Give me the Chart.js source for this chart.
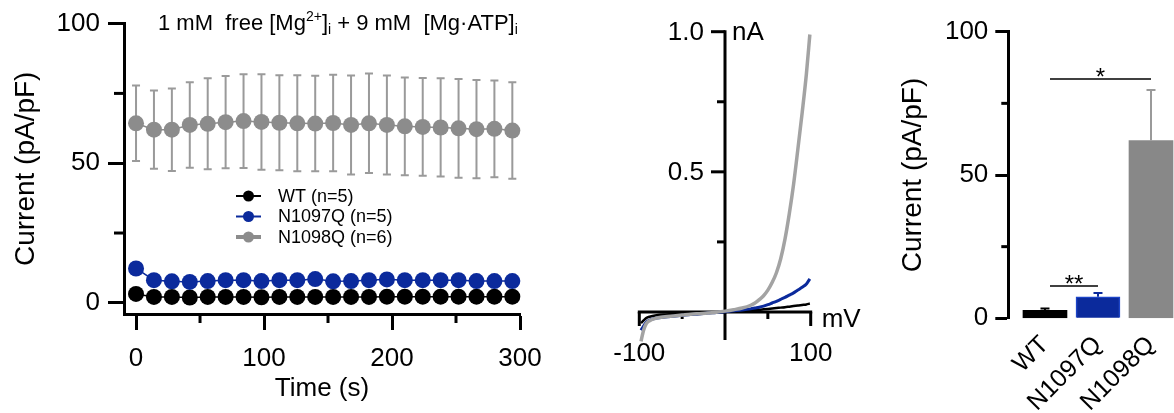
<!DOCTYPE html>
<html lang="en">
<head>
<meta charset="UTF-8">
<title>Mg-ATP currents</title>
<script src="https://cdn.jsdelivr.net/npm/chart.js@4.4.1/dist/chart.umd.min.js"></script>
<style>
    html, body {
        margin: 0;
        padding: 0;
        background: #fff;
        width: 1174px;
        height: 413px;
        overflow: hidden;
    }
    .panel {
        position: absolute;
        top: 0;
        height: 413px;
    }
</style>
</head>
<body>

<div class="panel" style="left:0;width:560px"><canvas id="timeChart" width="560" height="413"></canvas></div>
<div class="panel" style="left:600px;width:280px"><canvas id="ivChart" width="280" height="413"></canvas></div>
<div class="panel" style="left:880px;width:330px"><canvas id="barChart" width="330" height="413"></canvas></div>

<script>
    // ---- data: time course (left) ----
    const timeSec = [0, 14, 28, 42, 56, 70, 84, 98, 112, 126, 140, 154, 168, 182, 196, 210, 224, 238, 252, 266, 280, 294];
    const wtCurrent = [3.2, 2.1, 2.1, 1.9, 2.1, 2.1, 2.1, 2.0, 2.1, 2.1, 2.1, 2.1, 2.1, 2.1, 2.2, 2.2, 2.2, 2.2, 2.2, 2.2, 2.2, 2.2];
    const n1097qCurrent = [12.3, 8.1, 7.7, 7.5, 7.8, 8.1, 8.1, 7.8, 8.1, 8.1, 8.5, 7.7, 7.8, 8.1, 8.4, 8.1, 8.1, 8.1, 8.1, 7.8, 7.8, 7.8];
    const n1098qCurrent = [64.3, 62.0, 62.0, 63.7, 64.1, 64.7, 65.1, 64.8, 64.5, 64.3, 64.2, 64.4, 63.7, 64.3, 63.7, 63.2, 63.0, 62.8, 62.5, 62.2, 62.3, 61.7];
    const n1098qSem = [13.5, 14.0, 14.8, 15.3, 16.3, 16.5, 16.8, 17.1, 17.0, 17.2, 17.1, 17.3, 17.7, 17.8, 17.7, 17.5, 17.5, 17.6, 17.7, 17.6, 17.3, 17.3];
    const seriesLabels = ['WT (n=5)', 'N1097Q (n=5)', 'N1098Q (n=6)'];
    const timeTicks = [0, 100, 200, 300];
    const timeMinorTicks = [50, 150, 250];
    const currentTicks = [0, 50, 100];
    const currentMinorTicks = [25, 75];

    // ---- data: I-V ramps (middle) ----
    const ivVoltage = [-98, -95, -92, -88, -80, -70, -60, -50, -40, -30, -20, -10, 0, 10, 20, 30, 35, 40, 45, 50, 55, 60, 65, 70, 75, 80, 85, 90, 95, 99];
    const ivWt = [-0.04, -0.03, -0.022, -0.017, -0.012, -0.009, -0.007, -0.006, -0.004, -0.003, -0.002, -0.001, 0, 0.002, 0.004, 0.006, 0.007, 0.008, 0.0095, 0.011, 0.0125, 0.014, 0.0155, 0.017, 0.019, 0.021, 0.023, 0.025, 0.027, 0.03];
    const ivN1097q = [-0.065, -0.05, -0.037, -0.029, -0.022, -0.018, -0.015, -0.012, -0.009, -0.007, -0.004, -0.002, 0.001, 0.004, 0.007, 0.011, 0.014, 0.017, 0.021, 0.026, 0.032, 0.038, 0.045, 0.052, 0.06, 0.068, 0.078, 0.088, 0.1, 0.118];
    const ivN1098q = [-0.105, -0.065, -0.042, -0.031, -0.022, -0.017, -0.014, -0.011, -0.008, -0.006, -0.004, -0.001, 0.003, 0.008, 0.014, 0.024, 0.032, 0.044, 0.058, 0.078, 0.105, 0.14, 0.19, 0.26, 0.35, 0.455, 0.58, 0.71, 0.85, 0.99];
    const ivYTicks = [0.5, 1.0];
    const ivYMinorTicks = [0.25, 0.75];
    const ivXTicks = [-100, 100];
    const ivXMinorTicks = [-50, 50];

    // ---- data: summary bars (right) ----
    const barGroups = ['WT', 'N1097Q', 'N1098Q'];
    const barMeans = [2.8, 7.5, 62.0];
    const barSem = [0.6, 1.3, 17.7];
    // [from group, to group, bracket height (pA/pF), label]
    const sigBrackets = [
        [0, 2, 83.5, '*'],
        [0, 1, 11.3, '**']
    ];

    // ---- styles ----
    const FONT = 'Arial, "Liberation Sans", Helvetica, sans-serif';
    const BLACK = '#000000';
    const BLUE = '#0b2a9c';
    const GRAY = '#8c8c8c';
    const GRAY_ERR = '#9a9a9a';
    const GRAY_IV = '#a3a3a3';

    Chart.defaults.font.family = FONT;
    Chart.defaults.color = BLACK;

    function toXY(xs, ys) {
        return xs.map((x, i) => ({ x: x, y: ys[i] }));
    }

    function setTicks(values) {
        return scale => { scale.ticks = values.map(v => ({ value: v })); };
    }

    // short minor ticks, drawn through the chart scales
    function drawMinorY(ctx, xPix, yScale, values, len) {
        ctx.save();
        ctx.strokeStyle = BLACK;
        ctx.lineWidth = 3;
        values.forEach(v => {
            const y = yScale.getPixelForValue(v);
            ctx.beginPath();
            ctx.moveTo(xPix, y);
            ctx.lineTo(xPix - len, y);
            ctx.stroke();
        });
        ctx.restore();
    }

    function drawMinorX(ctx, yPix, xScale, values, len) {
        ctx.save();
        ctx.strokeStyle = BLACK;
        ctx.lineWidth = 3;
        values.forEach(v => {
            const x = xScale.getPixelForValue(v);
            ctx.beginPath();
            ctx.moveTo(x, yPix);
            ctx.lineTo(x, yPix + len);
            ctx.stroke();
        });
        ctx.restore();
    }

    // ---------- left: time course ----------
    const timeDecor = {
        id: 'timeDecor',
        beforeDatasetsDraw(chart) {
            const { ctx, scales: { x, y } } = chart;
            // error bars behind the grey points
            ctx.save();
            ctx.strokeStyle = GRAY_ERR;
            ctx.lineWidth = 2;
            timeSec.forEach((t, i) => {
                const px = x.getPixelForValue(t);
                const top = y.getPixelForValue(n1098qCurrent[i] + n1098qSem[i]);
                const bot = y.getPixelForValue(n1098qCurrent[i] - n1098qSem[i]);
                ctx.beginPath();
                ctx.moveTo(px, top);
                ctx.lineTo(px, bot);
                ctx.moveTo(px - 4, top);
                ctx.lineTo(px + 4, top);
                ctx.moveTo(px - 4, bot);
                ctx.lineTo(px + 4, bot);
                ctx.stroke();
            });
            ctx.restore();
        },
        afterDraw(chart) {
            const { ctx, chartArea, scales: { x, y } } = chart;
            drawMinorY(ctx, chartArea.left, y, currentMinorTicks, 10);
            drawMinorX(ctx, chartArea.bottom, x, timeMinorTicks, 9);

            // legend
            const rows = [196, 216.5, 237];
            const lineW = [2, 2, 4];
            ctx.save();
            chart.data.datasets.forEach((ds, i) => {
                const yy = rows[i];
                ctx.strokeStyle = ds.borderColor;
                ctx.lineWidth = lineW[i];
                ctx.beginPath();
                ctx.moveTo(236, yy);
                ctx.lineTo(261, yy);
                ctx.stroke();
                ctx.fillStyle = ds.backgroundColor;
                ctx.beginPath();
                ctx.arc(248.5, yy, 5.5, 0, Math.PI * 2);
                ctx.fill();
                ctx.fillStyle = BLACK;
                ctx.font = '18px ' + FONT;
                ctx.textBaseline = 'middle';
                ctx.textAlign = 'left';
                ctx.fillText(ds.label, 278, yy + 1);
            });

            // condition text with super/subscripts
            const parts = [
                ['1 mM  free [Mg', 0],
                ['2+', -1],
                [']', 0],
                ['i', 1],
                [' + 9 mM  [Mg\u00b7ATP]', 0],
                ['i', 1]
            ];
            let cx = 158;
            const base = 30;
            ctx.textBaseline = 'alphabetic';
            parts.forEach(([txt, kind]) => {
                if (kind === 0) {
                    ctx.font = '22px ' + FONT;
                    ctx.fillText(txt, cx, base);
                } else {
                    ctx.font = '14px ' + FONT;
                    ctx.fillText(txt, cx, kind < 0 ? base - 9 : base + 4);
                }
                cx += ctx.measureText(txt).width;
            });
            ctx.restore();
        }
    };

    function pointSet(label, xs, ys, color, order) {
        return {
            label: label,
            data: toXY(xs, ys),
            borderColor: color,
            backgroundColor: color,
            pointBackgroundColor: color,
            pointBorderWidth: 0,
            pointRadius: 8,
            borderWidth: 1.5,
            tension: 0,
            order: order
        };
    }

    new Chart(document.getElementById('timeChart'), {
        type: 'line',
        data: {
            datasets: [
                pointSet(seriesLabels[0], timeSec, wtCurrent, BLACK, 3),
                pointSet(seriesLabels[1], timeSec, n1097qCurrent, BLUE, 2),
                pointSet(seriesLabels[2], timeSec, n1098qCurrent, GRAY, 1)
            ]
        },
        options: {
            responsive: false,
            animation: false,
            devicePixelRatio: 1,
            clip: false,
            layout: { padding: { top: 22.7, right: 40, bottom: 0, left: 0 } },
            plugins: { legend: { display: false }, tooltip: { enabled: false } },
            scales: {
                x: {
                    type: 'linear',
                    min: -9.4,
                    max: 300,
                    afterBuildTicks: setTicks(timeTicks),
                    afterFit: s => { s.height = 99; },
                    border: { display: true, width: 3, color: BLACK },
                    grid: { drawOnChartArea: false, drawTicks: true, tickLength: 16, tickWidth: 3, tickColor: BLACK },
                    ticks: { font: { size: 26 }, color: BLACK, padding: 13, maxRotation: 0, autoSkip: false },
                    title: { display: true, text: 'Time (s)', font: { size: 26 }, color: BLACK, padding: { top: 0, bottom: 9 } }
                },
                y: {
                    min: -4,
                    max: 100,
                    afterBuildTicks: setTicks(currentTicks),
                    afterFit: s => { s.width = 124; },
                    border: { display: true, width: 3, color: BLACK },
                    grid: { drawOnChartArea: false, drawTicks: true, tickLength: 16, tickWidth: 3, tickColor: BLACK },
                    ticks: { font: { size: 26 }, color: BLACK, padding: 8 },
                    title: { display: true, text: 'Current (pA/pF)', font: { size: 28 }, color: BLACK, padding: { top: 9, bottom: 0 } }
                }
            }
        },
        plugins: [timeDecor]
    });

    // ---------- middle: I-V ----------
    const ivAxes = {
        id: 'ivAxes',
        beforeDatasetsDraw(chart) {
            const { ctx, scales: { x, y } } = chart;
            const x0 = x.getPixelForValue(0);
            const y0 = y.getPixelForValue(0);
            ctx.save();
            ctx.strokeStyle = BLACK;
            ctx.lineWidth = 3;
            ctx.beginPath();
            ctx.moveTo(x0, y.getPixelForValue(1.0) - 1.5);
            ctx.lineTo(x0, y.getPixelForValue(-0.1));
            ctx.moveTo(x.getPixelForValue(-100) - 1.5, y0);
            ctx.lineTo(x.getPixelForValue(100) + 1.5, y0);
            ctx.stroke();
            ivYTicks.forEach(v => {
                const p = y.getPixelForValue(v);
                ctx.beginPath();
                ctx.moveTo(x0, p);
                ctx.lineTo(x0 - 14, p);
                ctx.stroke();
            });
            drawMinorY(ctx, x0, y, ivYMinorTicks, 8);
            ivXTicks.forEach(v => {
                const p = x.getPixelForValue(v);
                ctx.beginPath();
                ctx.moveTo(p, y0);
                ctx.lineTo(p, y0 + 14);
                ctx.stroke();
            });
            drawMinorX(ctx, y0, x, ivXMinorTicks, 7);

            ctx.fillStyle = BLACK;
            ctx.font = '26px ' + FONT;
            ctx.textBaseline = 'middle';
            ctx.textAlign = 'right';
            ivYTicks.forEach(v => {
                ctx.fillText(v.toFixed(1), x0 - 21, y.getPixelForValue(v) + 1);
            });
            ctx.textAlign = 'center';
            ivXTicks.forEach(v => {
                ctx.fillText(String(v), x.getPixelForValue(v), y0 + 42);
            });
            ctx.textAlign = 'left';
            ctx.fillText('nA', x0 + 7, y.getPixelForValue(1.0) + 1);
            ctx.fillText('mV', x.getPixelForValue(100) + 11, y0 + 8);
            ctx.restore();
        }
    };

    function ivSet(label, ys, color, width, order) {
        return {
            label: label,
            data: toXY(ivVoltage, ys),
            borderColor: color,
            backgroundColor: color,
            borderWidth: width,
            pointRadius: 0,
            cubicInterpolationMode: 'monotone',
            order: order
        };
    }

    new Chart(document.getElementById('ivChart'), {
        type: 'line',
        data: {
            datasets: [
                ivSet('WT', ivWt, BLACK, 2.5, 3),
                ivSet('N1097Q', ivN1097q, BLUE, 3, 2),
                ivSet('N1098Q', ivN1098q, GRAY_IV, 3.5, 1)
            ]
        },
        options: {
            responsive: false,
            animation: false,
            devicePixelRatio: 1,
            clip: false,
            layout: { padding: { top: 31.7, right: 69.3, bottom: 73, left: 39.3 } },
            plugins: { legend: { display: false }, tooltip: { enabled: false } },
            scales: {
                x: { type: 'linear', min: -100, max: 100, display: false },
                y: { min: -0.1, max: 1.0, display: false }
            }
        },
        plugins: [ivAxes]
    });

    // ---------- right: summary bars ----------
    const barDecor = {
        id: 'barDecor',
        afterDatasetsDraw(chart) {
            const { ctx, chartArea, scales: { x, y } } = chart;
            const errColors = [BLACK, BLUE, GRAY_ERR];
            ctx.save();
            barMeans.forEach((m, i) => {
                const px = x.getPixelForValue(i);
                const top = y.getPixelForValue(m + barSem[i]);
                ctx.strokeStyle = errColors[i];
                ctx.lineWidth = 2;
                ctx.beginPath();
                ctx.moveTo(px, y.getPixelForValue(m));
                ctx.lineTo(px, top);
                ctx.moveTo(px - 4.5, top);
                ctx.lineTo(px + 4.5, top);
                ctx.stroke();
            });
            sigBrackets.forEach(([a, b, h, label]) => {
                const x1 = x.getPixelForValue(a) + 5;
                const x2 = x.getPixelForValue(b);
                const py = y.getPixelForValue(h);
                ctx.strokeStyle = BLACK;
                ctx.lineWidth = 1.5;
                ctx.beginPath();
                ctx.moveTo(x1, py);
                ctx.lineTo(x2, py);
                ctx.stroke();
                ctx.fillStyle = BLACK;
                ctx.font = '24px ' + FONT;
                ctx.textAlign = 'center';
                ctx.textBaseline = 'alphabetic';
                ctx.fillText(label, (x1 + x2) / 2, py + 6);
            });
            ctx.restore();
            drawMinorY(ctx, chartArea.left, y, currentMinorTicks, 7);
        }
    };

    new Chart(document.getElementById('barChart'), {
        type: 'bar',
        data: {
            datasets: [{
                label: 'Current',
                data: toXY([0, 1, 2], barMeans),
                backgroundColor: [BLACK, BLUE, '#888888'],
                borderColor: [BLACK, '#1c44c8', '#888888'],
                borderWidth: [0, 1.5, 0],
                barThickness: 44
            }]
        },
        options: {
            responsive: false,
            animation: false,
            devicePixelRatio: 1,
            layout: { padding: { top: 31.7, right: 32.5, bottom: 0, left: 0 } },
            plugins: { legend: { display: false }, tooltip: { enabled: false } },
            scales: {
                x: {
                    type: 'linear',
                    min: -0.692,
                    max: 2.5,
                    offset: false,
                    afterBuildTicks: setTicks([0, 1, 2]),
                    afterFit: s => { s.height = 94.7; },
                    border: { display: false },
                    grid: { display: false },
                    ticks: {
                        callback: v => barGroups[v],
                        font: { size: 25 },
                        color: BLACK,
                        minRotation: 45,
                        maxRotation: 45,
                        autoSkip: false,
                        padding: 4
                    }
                },
                y: {
                    min: 0,
                    max: 100,
                    afterBuildTicks: setTicks(currentTicks),
                    afterFit: s => { s.width = 128.3; },
                    border: { display: true, width: 3, color: BLACK },
                    grid: { drawOnChartArea: false, drawTicks: true, tickLength: 13, tickWidth: 3, tickColor: BLACK },
                    ticks: { font: { size: 26 }, color: BLACK, padding: 7 },
                    title: { display: true, text: 'Current (pA/pF)', font: { size: 28 }, color: BLACK, padding: { top: 16, bottom: 0 } }
                }
            }
        },
        plugins: [barDecor]
    });
</script>
</body>
</html>
